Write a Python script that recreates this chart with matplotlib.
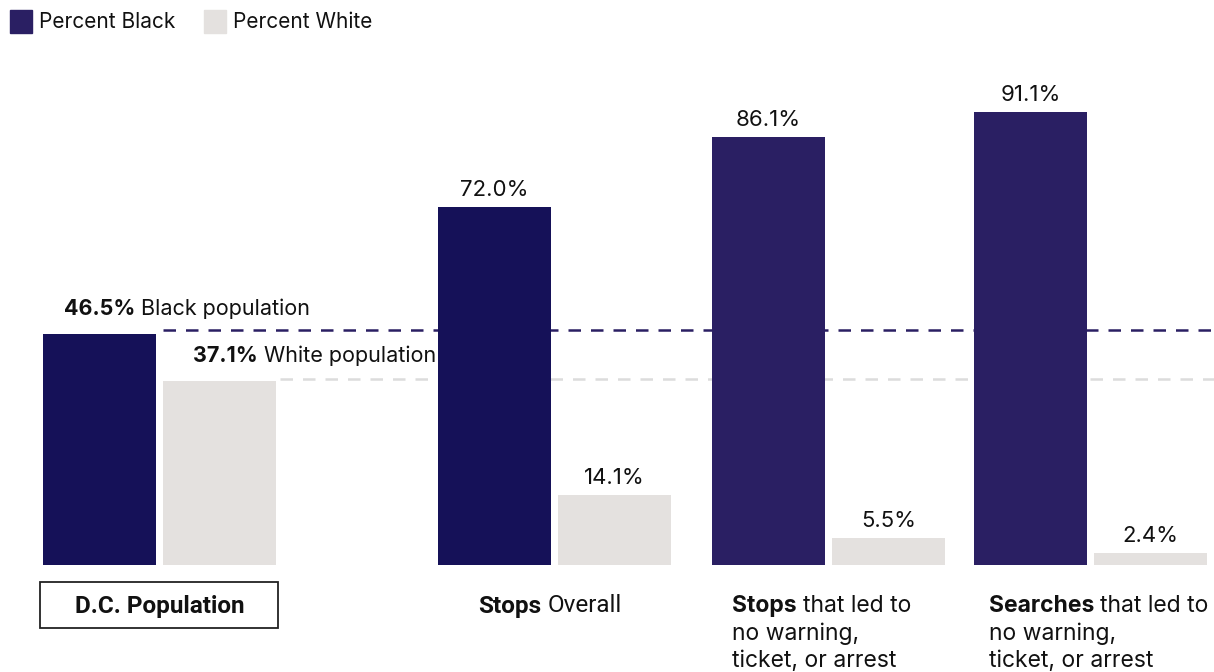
import matplotlib.pyplot as plt
import matplotlib.patches as patches
from matplotlib.transforms import blended_transform_factory
import numpy as np

# data
groups = ['D.C. Population', 'Stops Overall', 'Stops that led to', 'Searches that led to']
group_x = [0.0, 3.292, 5.575, 7.758]
pct_black = [46.5, 72.0, 86.1, 91.1]
pct_white = [37.1, 14.1, 5.5, 2.4]
black_colors = ['#151158', '#151158', '#2a1f63', '#2a1f63']
white_color = '#e4e1df'
legend_black = '#2a1f63'

plt.rcParams['font.family'] = ['Inter', 'DejaVu Sans']

fig = plt.figure(figsize=(12.14, 6.72), dpi=100)
ax = fig.add_axes([0, 107 / 672, 1, 497 / 672])
ax.set_xlim(-1.329, 8.787)
ax.set_ylim(0, 100)
ax.axis('off')

w = 0.942
xb = np.array(group_x) - 0.5
xw = np.array(group_x) + 0.5
ax.bar(xb, pct_black, width=w, color=black_colors, zorder=2)
ax.bar(xw, pct_white, width=w, color=white_color, zorder=2)

# reference lines for DC population
x_px = lambda px: (px - 159.5) / 120
ax.plot([x_px(163), 8.787], [pct_black[0] + 0.8] * 2, ls=(0, (5, 4)),
        color=legend_black, lw=1.8, zorder=1)
ax.plot([x_px(280), 8.787], [pct_white[0] + 0.3] * 2, ls=(0, (5, 4)),
        color='#dcdcdc', lw=1.8, zorder=1)

# value labels
fs_val = 16
for x, v in zip(xb[1:], pct_black[1:]):
    ax.text(x, v + 1.4, f'{v:.1f}%', ha='center', va='bottom', fontsize=fs_val, color='#111111')
for x, v in zip(xw[1:], pct_white[1:]):
    ax.text(x, v + 1.4, f'{v:.1f}%', ha='center', va='bottom', fontsize=fs_val, color='#111111')


def follow(artist, s, **kw):
    # normal-weight text right after a bold piece
    return ax.annotate(s, xy=(1, 0), xycoords=artist, xytext=(6, 0),
                       textcoords='offset pixels', va='bottom', color='#111111', **kw)


# DC annotations
fs_dc = 15.5
t1 = ax.text(x_px(64), pct_black[0] + 3.0, f'{pct_black[0]:.1f}%', ha='left', va='bottom',
             fontsize=fs_dc, fontweight='bold', color='#111111')
follow(t1, 'Black population', fontsize=fs_dc)
t2 = ax.text(x_px(193), pct_white[0] + 3.0, f'{pct_white[0]:.1f}%', ha='left', va='bottom',
             fontsize=fs_dc, fontweight='bold', color='#111111')
follow(t2, 'White population', fontsize=fs_dc)

# category labels
tr = blended_transform_factory(ax.transData, fig.transFigure)
yl = 1 - 606 / 672
box = patches.Rectangle((x_px(40), 1 - 628 / 672), (278 - 40) / 120, 46 / 672,
                        transform=tr, fill=False, edgecolor='#222222', lw=1.3, clip_on=False)
fig.add_artist(box)
ax.text(group_x[0], yl, 'D.C. Population', transform=tr, ha='center', va='center',
        fontsize=17.5, fontweight='bold', family='Roboto', color='#111111')

s1 = ax.text(x_px(478), yl, 'Stops', transform=tr, ha='left', va='center',
             fontsize=17.5, fontweight='bold', family='Roboto', color='#111111')
follow(s1, 'Overall', fontsize=17.5, family='Roboto')

fs_cat = 16.5
for left, bold in [(732, 'Stops'), (989, 'Searches')]:
    b = ax.text(x_px(left), yl, bold, transform=tr, ha='left', va='center',
                fontsize=fs_cat, fontweight='bold', color='#111111')
    follow(b, 'that led to', fontsize=fs_cat)
    ax.text(x_px(left), 1 - 634 / 672, 'no warning,', transform=tr, ha='left', va='center',
            fontsize=fs_cat, color='#111111')
    ax.text(x_px(left), 1 - 661 / 672, 'ticket, or arrest', transform=tr, ha='left', va='center',
            fontsize=fs_cat, color='#111111')

# legend
for sx, label, c in [(10, 'Percent Black', legend_black), (204, 'Percent White', white_color)]:
    fig.add_artist(patches.Rectangle((sx / 1214, 1 - 33 / 672), 22 / 1214, 23 / 672,
                                     transform=fig.transFigure, color=c))
    fig.text((sx + 29) / 1214, 1 - 22 / 672, label, ha='left', va='center',
             fontsize=15, color='#111111')

fig.savefig('out.png', dpi=100)
